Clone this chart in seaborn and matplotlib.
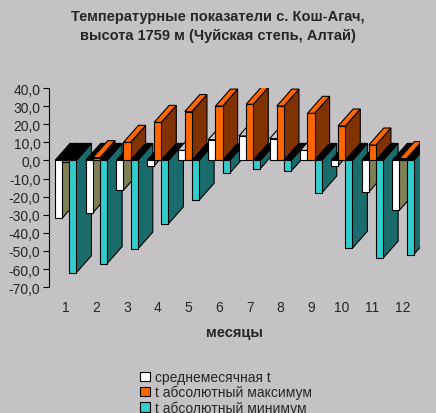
import numpy as np
import pandas as pd
import seaborn as sns
import matplotlib.pyplot as plt
from matplotlib.patches import Polygon, Patch
from matplotlib.ticker import FuncFormatter, MultipleLocator

months = [str(m) for m in range(1, 13)]
t_mean = [-32, -29, -16.5, -3, 5.5, 11.5, 13.5, 12, 5.5, -3, -17.5, -27.5]
t_max = [-1, 1.5, 10, 21, 27, 30, 31, 30, 26, 19, 8.5, 1]
t_min = [-62, -57, -49, -35, -22, -7, -4.5, -6, -18, -48.5, -54, -52]
series = ['среднемесячная t', 't абсолютный максимум', 't абсолютный минимум']

front = ['#FFFFFF', '#FF6600', '#33CCCC']
side = ['#808055', '#803300', '#1A6B6B']
top_pos = ['#C8C8C8', '#FF6600', '#33CCCC']
bg = '#C4C2C4'

df = pd.DataFrame({
    'month': months * 3,
    'value': t_mean + t_max + t_min,
    'series': np.repeat(series, 12),
})

sns.set_style('white')
plt.rcParams['font.family'] = ['Liberation Sans', 'DejaVu Sans']

fig = plt.figure(figsize=(4.36, 4.14), dpi=100, facecolor=bg)
ax = fig.add_axes([0.112, 0.304, 0.851, 0.481])
ax.set_facecolor(bg)

sns.barplot(data=df, x='month', y='value', hue='series', palette=front, saturation=1,
            width=0.7, edgecolor='black', linewidth=0.8, legend=False, ax=ax)

# fake 3D depth: side and top faces built from the drawn bars
dx, dy = 0.49, 9.4
bars = []
for k, cont in enumerate(ax.containers):
    for p in cont:
        bars.append((p.get_x(), k, p))
bars.sort(key=lambda t: t[0])
for i, (_, k, p) in enumerate(bars):
    x0, w = p.get_x(), p.get_width()
    y0, h = p.get_y(), p.get_height()
    lo, hi = min(y0, y0 + h), max(y0, y0 + h)
    z = 2 + i * 0.01
    p.set_zorder(z)
    sd = Polygon([(x0 + w, lo), (x0 + w + dx, lo + dy), (x0 + w + dx, hi + dy), (x0 + w, hi)],
                 closed=True, facecolor=side[k], edgecolor='black', lw=0.8, zorder=z - 0.005)
    tc = top_pos[k] if hi > 0 else 'black'
    tp = Polygon([(x0, hi), (x0 + dx, hi + dy), (x0 + w + dx, hi + dy), (x0 + w, hi)],
                 closed=True, facecolor=tc, edgecolor='black', lw=0.8, zorder=z - 0.005)
    ax.add_patch(sd)
    ax.add_patch(tp)

ax.set_xlim(-0.55, 11.55)
ax.set_ylim(-70, 40)
ax.yaxis.set_major_locator(MultipleLocator(10))
ax.yaxis.set_major_formatter(FuncFormatter(lambda v, _: f'{v:.1f}'.replace('.', ',')))
for s in ['top', 'right', 'bottom']:
    ax.spines[s].set_visible(False)
ax.spines['left'].set_color('black')
ax.tick_params(axis='y', left=True, length=4, color='black', labelsize=10, pad=2)
ax.tick_params(axis='x', bottom=False, labelsize=10, pad=6)
ax.set_xlabel('месяцы', fontsize=10.5, fontweight='bold', labelpad=8)
ax.set_ylabel('')

fig.suptitle('Температурные показатели с. Кош-Агач,\nвысота 1759 м (Чуйская степь, Алтай)',
             fontsize=10.5, fontweight='bold', y=0.975, linespacing=1.4)

handles = [Patch(facecolor=c, edgecolor='black', lw=0.8) for c in front]
fig.legend(handles, series, loc='upper left', bbox_to_anchor=(0.305, 0.12), frameon=False,
           fontsize=10, handlelength=0.7, handleheight=0.7, labelspacing=0.05,
           handletextpad=0.4, borderpad=0)

fig.savefig('out.png', dpi=100, facecolor=bg)
